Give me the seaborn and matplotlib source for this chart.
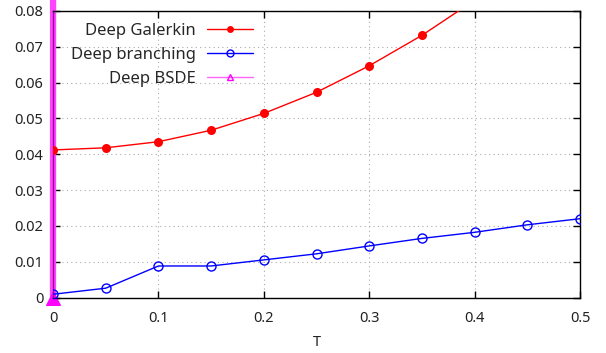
import pandas as pd
import matplotlib
matplotlib.use("Agg")
import matplotlib.pyplot as plt
import seaborn as sns
from matplotlib.lines import Line2D

# values
T = [0.0, 0.05, 0.1, 0.15, 0.2, 0.25, 0.3, 0.35, 0.4, 0.45, 0.5]
galerkin = [0.0412, 0.0418, 0.0435, 0.0467, 0.0514, 0.0573, 0.0647, 0.0732, 0.083, 0.094, 0.107]
branching = [0.0009, 0.0026, 0.0088, 0.0088, 0.0105, 0.0122, 0.0144, 0.0165, 0.0182, 0.0203, 0.0220]
# Deep BSDE blows up right after T=0, so only the vertical rise is visible
T_bsde = [0.0, 0.05]
bsde = [0.0, 50.0]

xticks = [0, 0.1, 0.2, 0.3, 0.4, 0.5]
xticklabels = ["0", "0.1", "0.2", "0.3", "0.4", "0.5"]
yticks = [0, 0.01, 0.02, 0.03, 0.04, 0.05, 0.06, 0.07, 0.08]
yticklabels = ["0", "0.01", "0.02", "0.03", "0.04", "0.05", "0.06", "0.07", "0.08"]

sns.set_theme(style="white")
plt.rcParams['font.family'] = ['Noto Sans', 'DejaVu Sans']

df_g = pd.DataFrame({'T': T, 'err': galerkin})
df_b = pd.DataFrame({'T': T, 'err': branching})
df_s = pd.DataFrame({'T': T_bsde, 'err': bsde})

fig = plt.figure(figsize=(6.06, 3.53), dpi=100)
ax = fig.add_axes([53 / 606, 1 - 297.5 / 353, 527 / 606, 286.5 / 353])

sns.lineplot(data=df_s, x='T', y='err', ax=ax, color='#ff44ff', lw=4.5,
             marker='^', markersize=10, markerfacecolor='#ff00ff',
             markeredgecolor='#ff00ff', zorder=2, clip_on=False)
sns.lineplot(data=df_g, x='T', y='err', ax=ax, color='#ff0000', lw=1,
             marker='o', markersize=6.5, markeredgewidth=0, zorder=4)
sns.lineplot(data=df_b, x='T', y='err', ax=ax, color='#0000ff', lw=1,
             marker='o', markersize=6.5, markerfacecolor='none',
             markeredgecolor='#0000ff', markeredgewidth=1, zorder=4)

ax.set_xlim(0, 0.5)
ax.set_ylim(0, 0.08)
ax.set_xticks(xticks)
ax.set_xticklabels(xticklabels)
ax.set_yticks(yticks)
ax.set_yticklabels(yticklabels)
ax.set_xlabel('T', fontsize=10.5, labelpad=6, color='#222222')
ax.set_ylabel('')

ax.grid(True, color='#aaaaaa', linestyle=(0, (1, 3)), lw=0.8)
ax.tick_params(direction='in', length=5, width=1, color='black',
               labelsize=10.5, labelcolor='#222222', top=True, right=True,
               bottom=True, left=True)
ax.tick_params(axis='x', pad=10)
ax.tick_params(axis='y', pad=7)
for sp in ax.spines.values():
    sp.set_color('black')
    sp.set_linewidth(1)
    sp.set_visible(True)
    sp.set_zorder(3)
ax.spines['left'].set_color('#a000a0')

handles = [
    Line2D([], [], color='#ff0000', lw=1, marker='o', markersize=5, markeredgewidth=0),
    Line2D([], [], color='#0000ff', lw=1, marker='o', markersize=5,
           markerfacecolor='none', markeredgecolor='#0000ff'),
    Line2D([], [], color='#ff66ff', lw=1, marker='^', markersize=5,
           markerfacecolor='none', markeredgecolor='#ff00ff'),
]
leg = ax.legend(handles, ['Deep Galerkin', 'Deep branching', 'Deep BSDE'],
                loc='upper right', bbox_to_anchor=(0.380, 0.957),
                markerfirst=False, frameon=False, fontsize=12,
                handlelength=2.75, handletextpad=0.72, labelspacing=0.48,
                borderpad=0, borderaxespad=0)

fig.savefig('out.png', dpi=100)
